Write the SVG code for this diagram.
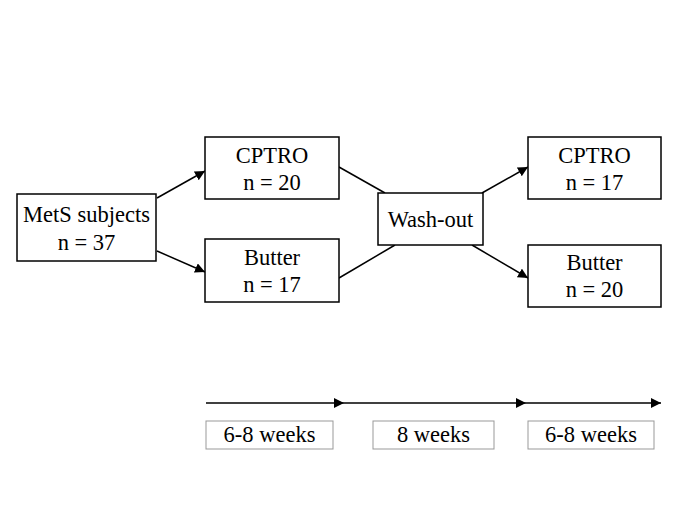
<svg xmlns="http://www.w3.org/2000/svg" width="685" height="513" viewBox="0 0 685 513">
<style>
.box{fill:#fff;stroke:#000;stroke-width:1.5}
.lbl{fill:#fff;stroke:#999;stroke-width:1}
text{font-family:"Liberation Serif","Times New Roman",serif;font-size:22.5px;fill:#000;text-anchor:middle}
.ln{stroke:#000;stroke-width:1.5;fill:none}
</style>
<defs>
<marker id="ah" viewBox="0 0 10 10" refX="10" refY="5" markerWidth="10" markerHeight="10" markerUnits="userSpaceOnUse" orient="auto">
<path d="M0,0 L10,5 L0,10 z" fill="#000"/>
</marker>
</defs>
<rect width="685" height="513" fill="#fff"/>
<g id="connectors">
<line class="ln" x1="157" y1="198" x2="205" y2="171" marker-end="url(#ah)"/>
<line class="ln" x1="157" y1="251" x2="205" y2="272" marker-end="url(#ah)"/>
<line class="ln" x1="339" y1="167" x2="385" y2="193"/>
<line class="ln" x1="339" y1="278" x2="395" y2="245"/>
<line class="ln" x1="482" y1="193" x2="528" y2="167" marker-end="url(#ah)"/>
<line class="ln" x1="472" y1="245" x2="528" y2="278" marker-end="url(#ah)"/>
<line class="ln" x1="206" y1="403" x2="344" y2="403" marker-end="url(#ah)"/>
<line class="ln" x1="344" y1="403" x2="526" y2="403" marker-end="url(#ah)"/>
<line class="ln" x1="526" y1="403" x2="661" y2="403" marker-end="url(#ah)"/>
</g>
<g id="mets">
<rect class="box" x="17" y="194" width="139" height="67"/>
<text x="86.5" y="222">MetS subjects</text>
<text x="86.5" y="250">n = 37</text>
</g>
<g id="cptro1">
<rect class="box" x="205" y="137" width="134" height="62"/>
<text x="272" y="163">CPTRO</text>
<text x="272" y="190">n = 20</text>
</g>
<g id="butter1">
<rect class="box" x="205" y="239" width="134" height="63"/>
<text x="272" y="265">Butter</text>
<text x="272" y="292">n = 17</text>
</g>
<g id="washout">
<rect class="box" x="378" y="193" width="105" height="52"/>
<text x="430.5" y="227">Wash-out</text>
</g>
<g id="cptro2">
<rect class="box" x="528" y="137" width="133" height="62"/>
<text x="594.5" y="163">CPTRO</text>
<text x="594.5" y="190">n = 17</text>
</g>
<g id="butter2">
<rect class="box" x="528" y="245" width="133" height="62"/>
<text x="594.5" y="270">Butter</text>
<text x="594.5" y="297">n = 20</text>
</g>
<g id="week1">
<rect class="lbl" x="206" y="421" width="127" height="28"/>
<text x="269.5" y="442">6-8 weeks</text>
</g>
<g id="week2">
<rect class="lbl" x="373" y="421" width="121" height="28"/>
<text x="433.5" y="442">8 weeks</text>
</g>
<g id="week3">
<rect class="lbl" x="528" y="421" width="126" height="28"/>
<text x="591" y="442">6-8 weeks</text>
</g>
</svg>
